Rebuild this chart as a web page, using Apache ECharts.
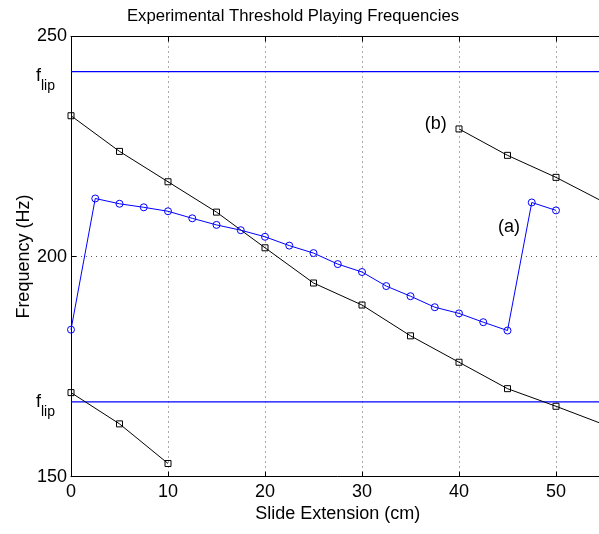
<!DOCTYPE html>
<html>
<head>
<meta charset="utf-8">
<script src="https://cdn.jsdelivr.net/npm/echarts@6/dist/echarts.min.js"></script>
<style>html,body{margin:0;padding:0;background:#fff;overflow:hidden;}#c{width:606px;height:534px;}</style>
</head>
<body>
<div id="c"></div>
<script>
// ---- data ----
const chartTitle = 'Experimental Threshold Playing Frequencies';
const xName = 'Slide Extension (cm)';
const yName = 'Frequency (Hz)';

const mainX = [0, 5, 10, 15, 20, 25, 30, 35, 40, 45, 50, 55];
const mainY = [232.0, 223.9, 217.0, 210.1, 202.0, 194.0, 189.0, 182.0, 176.0, 170.0, 166.0, 161.8];

const lowX = [0, 5, 10];
const lowY = [169.1, 162.0, 153.0];

const bX = [40, 45, 50, 55];
const bY = [229.0, 223.0, 218.0, 212.3];

const aX = [0, 2.5, 5, 7.5, 10, 12.5, 15, 17.5, 20, 22.5, 25, 27.5, 30, 32.5, 35, 37.5, 40, 42.5, 45, 47.5, 50];
const aY = [183.4, 213.2, 212.0, 211.2, 210.3, 208.7, 207.2, 206.0, 204.5, 202.5, 200.8, 198.3, 196.5, 193.3, 191.0, 188.5, 187.1, 185.1, 183.2, 212.3, 210.5];

const fLip = [242.0, 167.0];

const yLabelValues = [150, 166, 200, 240, 250];
const yLabelTexts = ['150', 'flip', '200', 'flip', '250'];

const noteTexts = ['(a)', '(b)'];
const noteX = [45.15, 37.6];
const noteY = [206.7, 230.1];

const xMin = 0, xMax = 55, xStep = 10;
const yMin = 150, yMax = 250, yStep = 50;

// ---- chart ----
const FONT = '"Liberation Sans", Arial, Helvetica, sans-serif';
const zip = (xs, ys) => xs.map((x, i) => [x, ys[i]]);

const chart = echarts.init(document.getElementById('c'), null, {renderer: 'canvas'});

const squareSeries = (name, xs, ys) => ({
  name, type: 'line', data: zip(xs, ys),
  symbol: 'rect', symbolSize: 6,
  itemStyle: {color: 'rgba(255,255,255,0)', borderColor: '#000', borderWidth: 1},
  lineStyle: {color: '#000', width: 1},
  z: 3
});

const option = {
  animation: false,
  backgroundColor: '#fff',
  textStyle: {fontFamily: FONT},
  title: {
    text: chartTitle, left: 288, top: 3, textAlign: 'center',
    textStyle: {fontFamily: FONT, fontSize: 16.7, fontWeight: 'normal', color: '#000'}
  },
  grid: {left: 71, top: 36.5, right: 1.5, bottom: 57.3, show: false},
  xAxis: [{
    type: 'value', min: xMin, max: xMax, interval: xStep,
    name: xName, nameLocation: 'middle', nameGap: 28, nameMoveOverlap: false,
    nameTextStyle: {fontFamily: FONT, fontSize: 18, color: '#000', verticalAlign: 'top'},
    axisLine: {show: true, onZero: false, lineStyle: {color: '#000', width: 1}},
    axisTick: {show: true, inside: true, length: 5, lineStyle: {color: '#000'}},
    axisLabel: {fontFamily: FONT, fontSize: 18, color: '#000', margin: 6, showMaxLabel: false},
    splitLine: {show: true, lineStyle: {color: '#555', type: [1, 4], width: 1}}
  }, {
    type: 'value', position: 'top', min: xMin, max: xMax, interval: xStep,
    axisLine: {show: true, onZero: false, lineStyle: {color: '#000', width: 1}},
    axisTick: {show: true, inside: true, length: 5, lineStyle: {color: '#000'}},
    axisLabel: {show: false},
    splitLine: {show: false}
  }],
  yAxis: [{
    type: 'value', min: yMin, max: yMax, interval: yStep,
    name: yName, nameLocation: 'middle', nameGap: 38, nameMoveOverlap: false,
    nameTextStyle: {fontFamily: FONT, fontSize: 18, color: '#000'},
    axisLine: {show: true, onZero: false, lineStyle: {color: '#000', width: 1}},
    axisTick: {show: true, inside: true, length: 5, lineStyle: {color: '#000'}},
    axisLabel: {
      customValues: yLabelValues,
      fontFamily: FONT, fontSize: 18, color: '#000', margin: 4,
      formatter: function (v) {
        const i = yLabelValues.indexOf(v);
        const t = i >= 0 ? yLabelTexts[i] : String(v);
        if (t === 'flip') return '{f|f}{s|lip}';
        return t;
      },
      rich: {
        f: {fontFamily: FONT, fontSize: 18, lineHeight: 18, verticalAlign: 'top', color: '#000'},
        s: {fontFamily: FONT, fontSize: 14, lineHeight: 26, verticalAlign: 'bottom', color: '#000', padding: [0, 12, 0, 0]}
      }
    },
    splitLine: {show: true, lineStyle: {color: '#555', type: [1, 4], width: 1}}
  }],
  series: [
    {
      name: 'flipHigh', type: 'line', data: [[xMin, fLip[0]], [xMax, fLip[0]]],
      symbol: 'none', lineStyle: {color: '#0000ff', width: 1.2}, z: 2
    },
    {
      name: 'flipLow', type: 'line', data: [[xMin, fLip[1]], [xMax, fLip[1]]],
      symbol: 'none', lineStyle: {color: '#0000ff', width: 1.2}, z: 2
    },
    squareSeries('main', mainX, mainY),
    squareSeries('low', lowX, lowY),
    squareSeries('b', bX, bY),
    {
      name: 'a', type: 'line', data: zip(aX, aY),
      symbol: 'circle', symbolSize: 7,
      itemStyle: {color: 'rgba(255,255,255,0)', borderColor: '#0000ff', borderWidth: 1},
      lineStyle: {color: '#0000ff', width: 1},
      z: 4,
      markPoint: {
        symbol: 'circle', symbolSize: 1,
        itemStyle: {color: 'rgba(0,0,0,0)'},
        label: {show: true, position: 'inside', fontFamily: FONT, fontSize: 18, color: '#000',
                formatter: p => p.name},
        data: noteTexts.map((t, i) => ({name: t, coord: [noteX[i], noteY[i]]}))
      }
    }
  ]
};
chart.setOption(option);
</script>
</body>
</html>
